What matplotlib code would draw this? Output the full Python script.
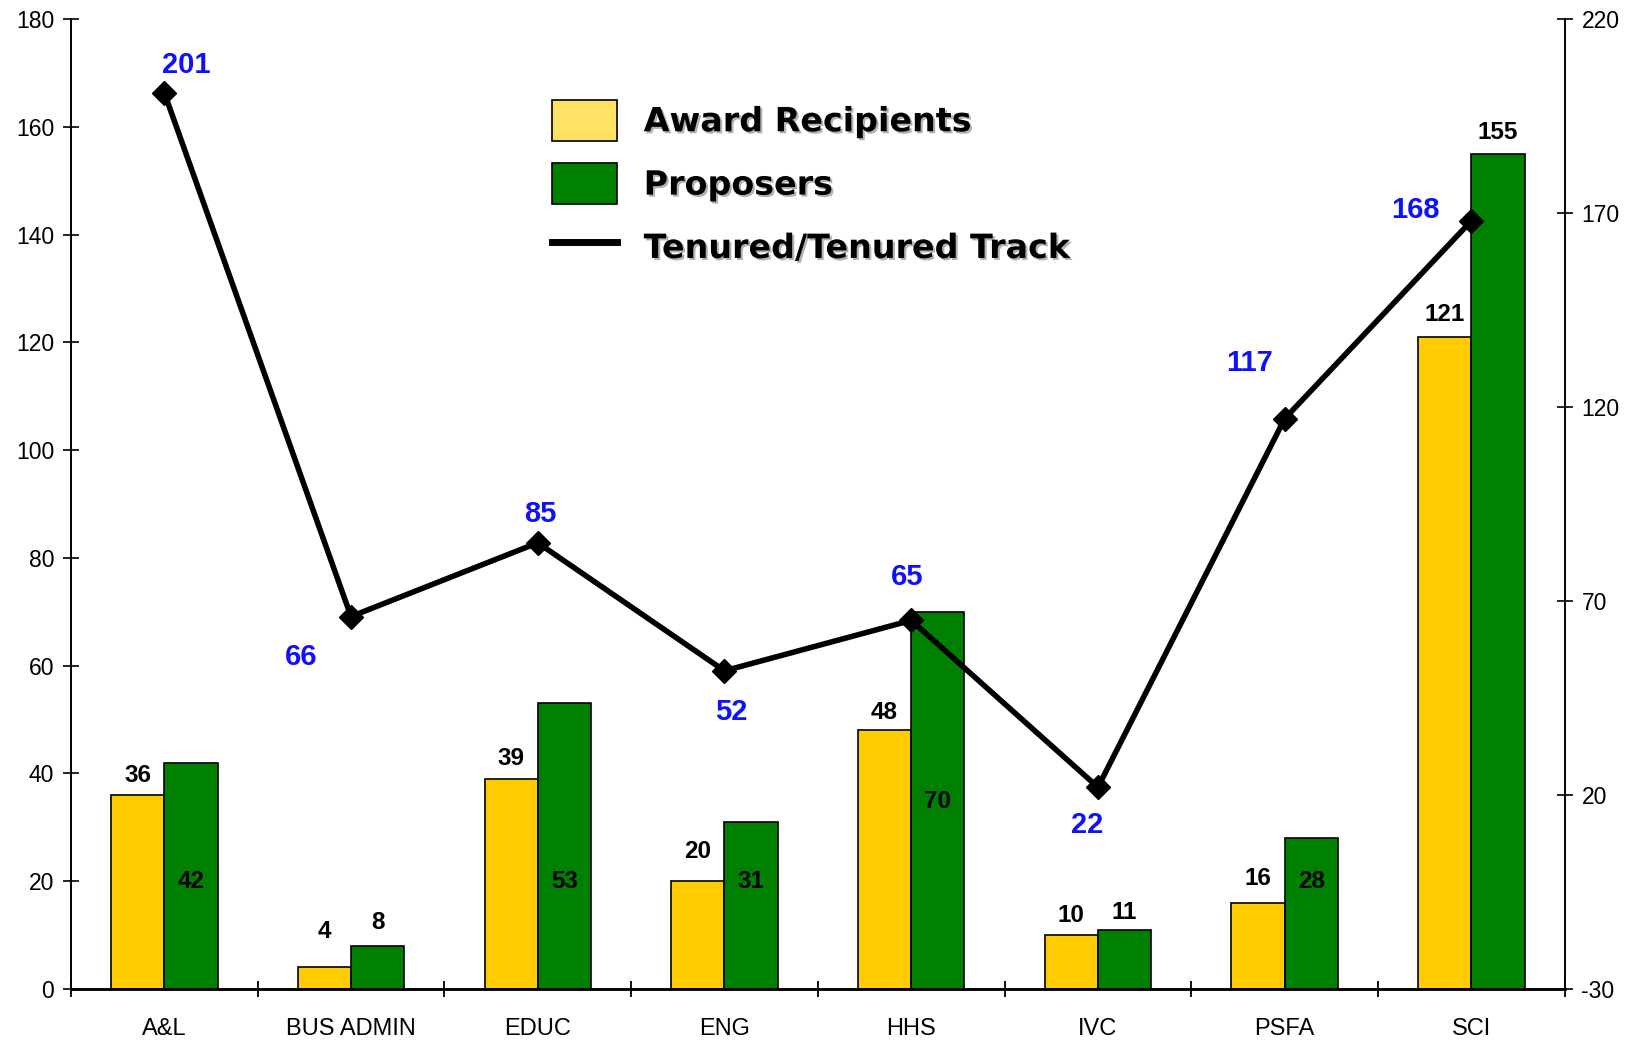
import matplotlib.pyplot as plt
import matplotlib.patheffects as pe
from matplotlib.patches import Patch
from matplotlib.lines import Line2D
import numpy as np

plt.rcParams['font.family'] = ['Liberation Sans', 'DejaVu Sans']
plt.rcParams['axes.unicode_minus'] = False

colleges = ['A&L', 'BUS ADMIN', 'EDUC', 'ENG', 'HHS', 'IVC', 'PSFA', 'SCI']
award_recipients = [36, 4, 39, 20, 48, 10, 16, 121]
proposers = [42, 8, 53, 31, 70, 11, 28, 155]
tenured = [201, 66, 85, 52, 65, 22, 117, 168]

# where the value labels sit (left-axis units)
award_lbl_y = [39.7, 10.7, 42.8, 25.6, 51.3, 13.6, 20.5, 125.2]
prop_lbl_y = [20, 12.4, 20, 20, 34.7, 14.1, 20, 158.9]
# blue label offsets from the line markers, in points
tenured_off = [(16, 20), (-36, -29), (2, 21), (4.5, -30), (-3, 31), (-8, -27), (-25, 40), (-40, 8)]

yellow = '#FFCC00'
green = '#008000'

fig = plt.figure(figsize=(16.38, 10.41), dpi=100)
ax1 = fig.add_axes([0.0433, 0.05, 0.912, 0.9317])
ax2 = ax1.twinx()

x = np.arange(len(colleges))
w = 0.285
ax1.bar(x - w/2, award_recipients, w, color=yellow, edgecolor='black', linewidth=1.2)
ax1.bar(x + w/2, proposers, w, color=green, edgecolor='black', linewidth=1.2)

for i in range(len(colleges)):
    ax1.text(x[i] - w/2, award_lbl_y[i], str(award_recipients[i]), ha='center', va='center',
             fontsize=17.5, fontweight='bold')
    ax1.text(x[i] + w/2, prop_lbl_y[i], str(proposers[i]), ha='center', va='center',
             fontsize=17.5, fontweight='bold')

ax2.plot(x, tenured, color='black', lw=4, marker='D', ms=12, zorder=5)
for i, v in enumerate(tenured):
    ax2.annotate(str(v), (x[i], v), xytext=tenured_off[i], textcoords='offset points',
                 ha='center', va='center', color='#1010FF', fontsize=21, fontweight='bold')

ax1.set_xlim(-0.5, len(colleges) - 0.5)
ax1.set_ylim(0, 180)
ax1.set_yticks(np.arange(0, 181, 20))
ax2.set_ylim(-30, 220)
ax2.set_yticks(np.arange(-30, 221, 50))

ax1.set_xticks(x)
ax1.set_xticklabels(colleges)
ax1.set_xticks(np.arange(-0.5, len(colleges)), minor=True)
ax1.tick_params(axis='x', which='major', length=0, pad=21, labelsize=17)
ax1.tick_params(axis='x', which='minor', direction='inout', length=12, width=1.3)
ax1.tick_params(axis='y', direction='inout', length=12, width=1.2, pad=6, labelsize=16.5)
ax2.tick_params(axis='y', direction='inout', length=12, width=1.2, pad=6, labelsize=16.5)

for a in (ax1, ax2):
    a.spines['top'].set_visible(False)
    a.spines['left'].set_linewidth(1.2)
    a.spines['right'].set_linewidth(1.2)
    a.spines['bottom'].set_linewidth(1.8)

handles = [Patch(facecolor='#FFE264', edgecolor='black', linewidth=1.2),
           Patch(facecolor=green, edgecolor='black', linewidth=1.2),
           Line2D([0], [0], color='black', lw=5)]
labels = ['Award Recipients', 'Proposers', 'Tenured/Tenured Track']
leg = ax2.legend(handles, labels, loc='upper left', bbox_to_anchor=(0.337, 0.904),
                 bbox_transform=fig.transFigure, frameon=False, borderpad=0, borderaxespad=0,
                 handlelength=1.95, handleheight=1.5, handletextpad=0.8, labelspacing=0.68,
                 prop={'family': ['DejaVu Sans'], 'weight': 'bold', 'size': 24})
for t in leg.get_texts():
    t.set_path_effects([pe.withSimplePatchShadow(offset=(1.5, -1.5), shadow_rgbFace='gray', alpha=0.6)])

fig.savefig('out.png', dpi=100)
